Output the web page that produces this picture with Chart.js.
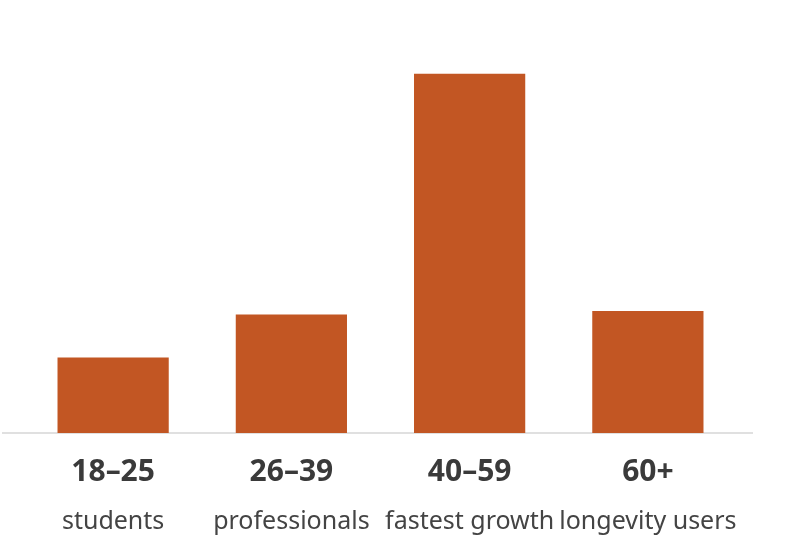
<!DOCTYPE html>
<html>
<head>
<meta charset="utf-8">
<script src="https://cdn.jsdelivr.net/npm/chart.js@4/dist/chart.umd.min.js"></script>
<style>
  html, body { margin: 0; padding: 0; background: #fff; }
  #wrap { width: 800px; height: 558px; }
</style>
</head>
<body>
<div id="wrap"><canvas id="ageChart"></canvas></div>
<script>
// age groups and their share (index, largest group = 100)
const ageGroups = ['18–25', '26–39', '40–59', '60+'];
const groupNotes = ['students', 'professionals', 'fastest growth', 'longevity users'];
const groupValues = [21, 33, 100, 34];

// light baseline running a bit wider than the plot area
const baseLine = {
    id: 'baseLine',
    beforeDatasetsDraw(chart) {
        const ctx = chart.ctx;
        const y = chart.scales.y.getPixelForValue(0);
        ctx.save();
        ctx.strokeStyle = '#d6d6d6';
        ctx.lineWidth = 1.5;
        ctx.beginPath();
        ctx.moveTo(2, y);
        ctx.lineTo(753, y);
        ctx.stroke();
        ctx.restore();
    }
};

// second, lighter line of labels under the age groups
const groupNoteLabels = {
    id: 'groupNoteLabels',
    afterDraw(chart) {
        const ctx = chart.ctx;
        const x = chart.scales.x;
        const y = chart.scales.y.getPixelForValue(0) + 89;
        ctx.save();
        ctx.fillStyle = '#444444';
        ctx.font = '25px "Noto Sans"';
        ctx.textAlign = 'center';
        ctx.textBaseline = 'middle';
        groupNotes.forEach((note, i) => {
            ctx.fillText(note, x.getPixelForValue(i), y);
        });
        ctx.restore();
    }
};

const ctx = document.getElementById('ageChart');
new Chart(ctx, {
    type: 'bar',
    data: {
        labels: ageGroups,
        datasets: [{
            data: groupValues,
            backgroundColor: '#C25623',
            barPercentage: 0.624,
            categoryPercentage: 1
        }]
    },
    options: {
        responsive: true,
        maintainAspectRatio: false,
        animation: false,
        layout: {
            padding: { left: 24, right: 63, top: 20, bottom: 47 }
        },
        plugins: {
            legend: { display: false },
            tooltip: { enabled: false }
        },
        scales: {
            y: {
                display: false,
                min: 0,
                max: 115
            },
            x: {
                grid: { display: false, drawTicks: false },
                border: { display: false },
                ticks: {
                    color: '#3a3a3a',
                    padding: 21,
                    font: { family: 'Noto Sans', size: 30, weight: 'bold' }
                }
            }
        }
    },
    plugins: [baseLine, groupNoteLabels]
});
</script>
</body>
</html>
